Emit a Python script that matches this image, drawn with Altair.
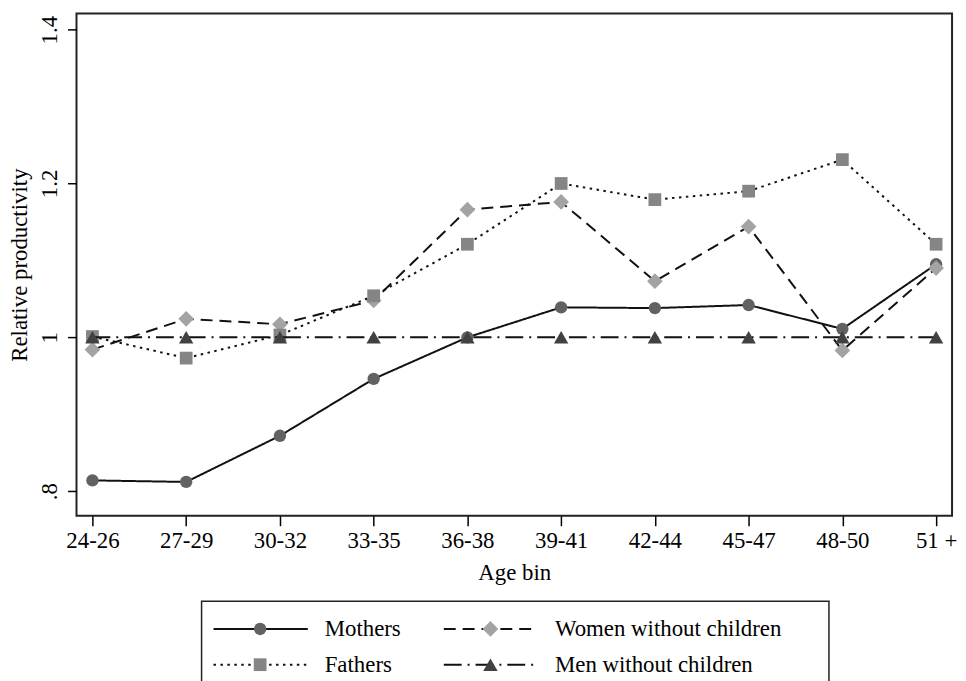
import altair as alt
import pandas as pd

ages = ["24-26", "27-29", "30-32", "33-35", "36-38", "39-41", "42-44", "45-47", "48-50", "51 +"]
series_names = ["Mothers", "Women without children", "Fathers", "Men without children"]
mothers = [0.814, 0.812, 0.872, 0.946, 1.000, 1.039, 1.038, 1.042, 1.011, 1.095]
women = [0.984, 1.024, 1.017, 1.048, 1.166, 1.176, 1.073, 1.144, 0.983, 1.090]
fathers = [1.001, 0.973, 1.003, 1.054, 1.121, 1.200, 1.179, 1.190, 1.231, 1.121]
men = [1.000, 1.000, 1.000, 1.000, 1.000, 1.000, 1.000, 1.000, 1.000, 1.000]
y_ticks = [0.8, 1.0, 1.2, 1.4]

# legend layout: column / row of each entry
legend_col = [0, 1, 0, 1]
legend_row = [0, 0, 1, 1]

FONT = "Liberation Serif"

# marker / line styles per series
STYLE = {
    "Mothers": dict(shape="circle", fill="#626262", size=155, dash=[1, 0]),
    "Women without children": dict(shape="diamond", fill="#a3a3a3", size=250, dash=[12, 7]),
    "Fathers": dict(shape="square", fill="#858585", size=165, dash=[2.5, 4.5]),
    "Men without children": dict(shape="triangle-up", fill="#414141", size=210, dash=[18, 6, 2, 6]),
}

values_by_series = dict(zip(series_names, [mothers, women, fathers, men]))

x_enc = alt.X(
    "age:N",
    sort=ages,
    scale=alt.Scale(type="point", padding=0.17),
    axis=alt.Axis(title="Age bin", labelAngle=0, tickSize=10, labelPadding=4, titlePadding=9),
)
y_enc = alt.Y(
    "value:Q",
    scale=alt.Scale(domain=[0.768, 1.421], nice=False, zero=False),
    axis=alt.Axis(
        title="Relative productivity",
        values=y_ticks,
        labelAngle=270,
        labelAlign="center",
        labelBaseline="bottom",
        labelExpr="replace(format(datum.value, '.1~f'), '0.', '.')",
        tickSize=9,
        labelPadding=6,
        titlePadding=7,
    ),
)

layers = []
for name in series_names:
    st = STYLE[name]
    d = pd.DataFrame({"age": ages, "value": values_by_series[name], "series": name})
    base = alt.Chart(d)
    layers.append(
        base.mark_line(color="#111111", strokeWidth=2, strokeDash=st["dash"]).encode(x=x_enc, y=y_enc)
    )
    layers.append(
        base.mark_point(
            filled=True, opacity=1, shape=st["shape"], fill=st["fill"], size=st["size"], strokeWidth=0
        ).encode(x=x_enc, y=y_enc)
    )
main = alt.layer(*layers).properties(width=882, height=506)

# legend panel
leg_layers = []
lx = alt.X("col:Q", scale=alt.Scale(domain=[0, 1], range=[12, 244]), axis=None)
ly = alt.Y("row:Q", scale=alt.Scale(domain=[0, 1], range=[28, 64]), axis=None)
for name, c, r in zip(series_names, legend_col, legend_row):
    st = STYLE[name]
    ld = alt.Chart(pd.DataFrame({"series": [name], "col": [c], "row": [r]}))
    leg_layers.append(
        ld.mark_rule(color="#111111", strokeWidth=2, strokeDash=st["dash"], xOffset=0, x2Offset=95).encode(
            x=lx, x2=alt.X2("col"), y=ly
        )
    )
    leg_layers.append(
        ld.mark_point(
            filled=True, opacity=1, shape=st["shape"], fill=st["fill"], size=st["size"], strokeWidth=0, xOffset=47
        ).encode(x=lx, y=ly)
    )
    leg_layers.append(
        ld.mark_text(
            align="left", baseline="middle", xOffset=112, font=FONT, fontSize=23, color="black"
        ).encode(x=lx, y=ly, text="series:N")
    )
legend_box = alt.layer(*leg_layers).properties(
    width=632, height=90, view=alt.ViewBackground(stroke="#222222", strokeWidth=1.5)
)
spacer = alt.Chart(pd.DataFrame({"v": [0]})).mark_point(opacity=0).encode(
    x=alt.X("v:Q", axis=None), y=alt.Y("v:Q", axis=None)
).properties(width=125, height=90, view=alt.ViewBackground(stroke=None))

bottom = alt.hconcat(spacer, legend_box, spacing=0)

chart = alt.vconcat(main, bottom, spacing=15).properties(
    padding={"left": 0, "top": 2, "right": 0, "bottom": 0}
).configure_axis(
    grid=False,
    domain=False,
    labelFont=FONT,
    titleFont=FONT,
    labelFontSize=23,
    titleFontSize=23,
    titleFontWeight="normal",
    labelColor="black",
    titleColor="black",
    tickColor="black",
    tickWidth=1.5,
).configure_view(stroke="#222222", strokeWidth=2)

chart.save("out.html", embed_options={"renderer": "svg", "actions": False})
